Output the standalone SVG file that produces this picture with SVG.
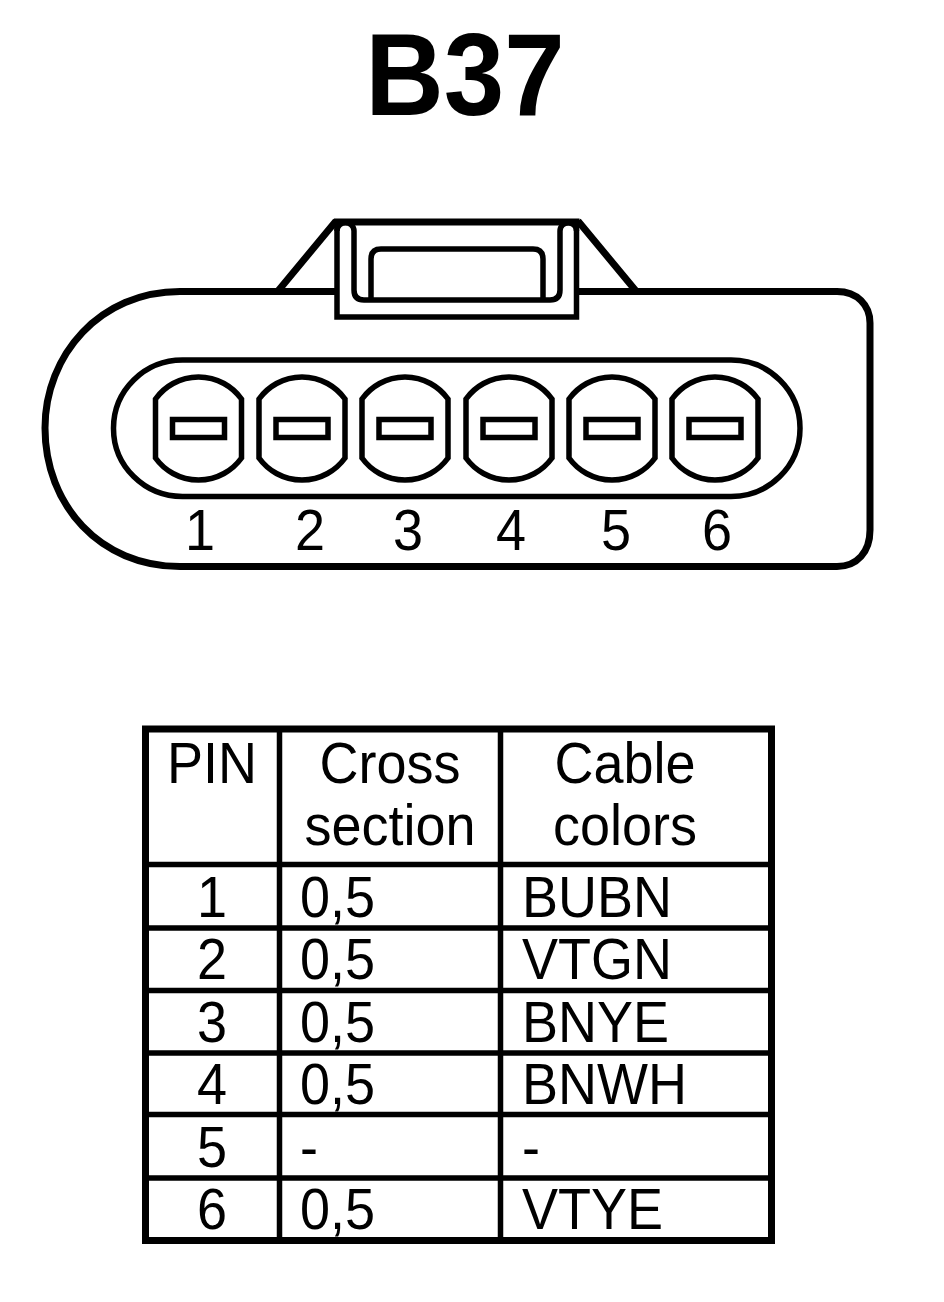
<svg xmlns="http://www.w3.org/2000/svg" width="944" height="1302" viewBox="0 0 944 1302">
<style>
.l{fill:none;stroke:#000;stroke-width:7}
.m{fill:none;stroke:#000;stroke-width:5.5}
.t{font-family:"Liberation Sans",Arial,sans-serif;font-size:57px;fill:#000}
.c{text-anchor:middle}
</style>
<defs>
<g id="pinshape"><path class="m" d="M-43 -29.500A53 53 0 0 1 43 -29.500V29.500A53 53 0 0 1 -43 29.500Z"/><rect class="m" x="-26" y="-9" width="52" height="18"/></g>
</defs>
<rect width="944" height="1302" fill="#fff"/>
<text transform="translate(465 115) scale(.937 1)" class="c" style="font-family:'Liberation Sans',Arial,sans-serif;font-size:116px;font-weight:bold">B37</text>
<g id="connector">
<path class="l" d="M336 291.500H180C100 291.500 45 355 45 428C45 505 100 566.500 180 566.500H837C857 566.500 870 552 870 530V323C870 305 857 291.500 837 291.500H576"/>
<path class="l" d="M278 291L336 221M578 221L636 291"/>
<path class="m" d="M337 222V317H576.500V222" style="fill:#fff"/>
<path class="l" d="M334 222H579.500"/>
<path class="m" d="M337 231A8.500 8.500 0 0 1 354 231V290Q354 300 364 300H550Q560 300 560 290V231A8.250 8.250 0 0 1 576.500 231"/>
<path class="m" d="M371 300V259Q371 249 381 249H533Q543 249 543 259V300"/>
<rect class="m" x="113.500" y="360" width="686.500" height="136.500" rx="69" ry="68"/>
</g>
<g id="pin1"><use href="#pinshape" x="198.500" y="428.500"/></g>
<g id="pin2"><use href="#pinshape" x="302" y="428.500"/></g>
<g id="pin3"><use href="#pinshape" x="405" y="428.500"/></g>
<g id="pin4"><use href="#pinshape" x="509" y="428.500"/></g>
<g id="pin5"><use href="#pinshape" x="612" y="428.500"/></g>
<g id="pin6"><use href="#pinshape" x="715" y="428.500"/></g>
<g id="pin-numbers" class="t" transform="scale(.947 1)">
<text class="c" x="211.200" y="550">1</text><text class="c" x="327.400" y="550">2</text><text class="c" x="430.800" y="550">3</text><text class="c" x="539.600" y="550">4</text><text class="c" x="650.500" y="550">5</text><text class="c" x="757.100" y="550">6</text>
</g>
<g id="table">
<rect class="l" x="145.500" y="729" width="626" height="511.500"/>
<path class="m" d="M279.500 729V1240M500.500 729V1240M145 864.500H771M145 928H771M145 990.500H771M145 1053H771M145 1114.500H771M145 1178H771"/>
<g class="t" transform="scale(.947 1)">
<text class="c" x="223.900" y="783">PIN</text><text class="c" x="411.800" y="783">Cross</text><text class="c" x="411.800" y="845">section</text><text class="c" x="660" y="783">Cable</text><text class="c" x="660" y="845">colors</text>
<text class="c" x="223.900" y="917">1</text><text x="316.800" y="917">0,5</text><text x="551.200" y="917">BUBN</text>
<text class="c" x="223.900" y="979">2</text><text x="316.800" y="979">0,5</text><text x="551.200" y="979">VTGN</text>
<text class="c" x="223.900" y="1042">3</text><text x="316.800" y="1042">0,5</text><text x="551.200" y="1042">BNYE</text>
<text class="c" x="223.900" y="1104">4</text><text x="316.800" y="1104">0,5</text><text x="551.200" y="1104">BNWH</text>
<text class="c" x="223.900" y="1167">5</text><text x="316.800" y="1167">-</text><text x="551.200" y="1167">-</text>
<text class="c" x="223.900" y="1229">6</text><text x="316.800" y="1229">0,5</text><text x="551.200" y="1229">VTYE</text>
</g>
</g>
</svg>
